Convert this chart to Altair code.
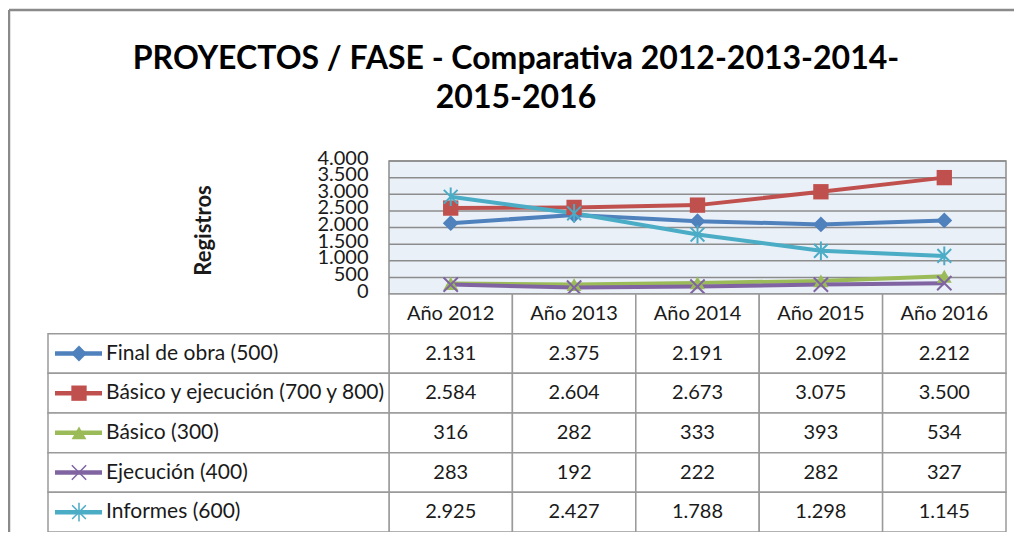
import altair as alt
import pandas as pd

# ---------------- data ----------------
years = ["Año 2012", "Año 2013", "Año 2014", "Año 2015", "Año 2016"]
series = [
    "Final de obra (500)",
    "Básico y ejecución (700 y 800)",
    "Básico (300)",
    "Ejecución (400)",
    "Informes (600)",
]
final_obra = [2131, 2375, 2191, 2092, 2212]
basico_ejecucion = [2584, 2604, 2673, 3075, 3500]
basico = [316, 282, 333, 393, 534]
ejecucion = [283, 192, 222, 282, 327]
informes = [2925, 2427, 1788, 1298, 1145]
y_ticks = [0, 500, 1000, 1500, 2000, 2500, 3000, 3500, 4000]
title_lines = ["PROYECTOS / FASE - Comparativa 2012-2013-2014-", "2015-2016"]
y_title = "Registros"

# ---------------- styles ----------------
colors = ["#4F81BD", "#C0504D", "#9BBB59", "#8064A2", "#4BACC6"]
X_PATH = "M-1,-1L1,1M-1,1L1,-1"
AST_PATH = "M-1,-1L1,1M-1,1L1,-1M0,-1.35L0,1.35"
shapes = ["diamond", "square", "triangle-up", X_PATH, AST_PATH]
sizes = [250, 190, 200, 200, 260]
FONT = "Lato"
TXT = "#1a1a1a"
GRID = "#8c8c8c"
BORDER = "#9a9a9a"

series_vals = [final_obra, basico_ejecucion, basico, ejecucion, informes]
records = []
for s, vals in zip(series, series_vals):
    for yr, v in zip(years, vals):
        records.append({"series": s, "year": yr, "value": v, "row": s})
df = pd.DataFrame(records)
header_df = pd.DataFrame({"year": years, "row": ["header"] * len(years)})
legend_df = pd.DataFrame({"series": series, "row": series})
tick_df = pd.DataFrame({"value": y_ticks})
one = pd.DataFrame({"a": [0]})

# ---------------- scales ----------------
x_scale = alt.Scale(type="band", domain=years, range=[341, 958], paddingInner=0, paddingOuter=0)
y_scale = alt.Scale(domain=[0, 4000], range=[133, 0], nice=False, zero=True)
row_scale = alt.Scale(type="band", domain=["header"] + series, range=[133, 371], paddingInner=0, paddingOuter=0)
color_scale = alt.Scale(domain=series, range=colors)
shape_scale = alt.Scale(domain=series, range=shapes)
size_scale = alt.Scale(domain=series, range=sizes)

X = alt.X("year:N", scale=x_scale, axis=None)
Yv = lambda axis=None: alt.Y("value:Q", scale=y_scale, axis=axis)
Yrow = alt.Y("row:N", scale=row_scale, axis=None)
Yrow_mid = alt.Y("row:N", scale=row_scale, axis=None, bandPosition=0.5)
COLOR = alt.Color("series:N", scale=color_scale, legend=None)
SHAPE = alt.Shape("series:N", scale=shape_scale, legend=None)
SIZE = alt.Size("series:N", scale=size_scale, legend=None)

filled_pred = alt.FieldOneOfPredicate(field="series", oneOf=series[:3])
stroked_pred = alt.FieldOneOfPredicate(field="series", oneOf=series[3:])

# ---------------- layers ----------------
frame_top = alt.Chart(one).mark_rule(color="#8a8a8a", strokeWidth=2.5).encode(
    x=alt.value(-39), x2=alt.value(1100), y=alt.value(-151)
)
frame_left = alt.Chart(one).mark_rule(color="#8a8a8a", strokeWidth=2.5).encode(
    x=alt.value(-39), y=alt.value(-151), y2=alt.value(700)
)

title = alt.Chart(one).mark_text(
    text=title_lines, font=FONT, fontSize=32, fontWeight="bold", color="#000000",
    align="center", baseline="alphabetic", lineHeight=39,
).encode(x=alt.value(468), y=alt.value(-92))

plot_bg = alt.Chart(one).mark_rect(fill="#EAF0F8", stroke=GRID, strokeWidth=1.5).encode(
    x=alt.value(341), x2=alt.value(958), y=alt.value(0), y2=alt.value(133)
)

grid = alt.Chart(tick_df).mark_rule(color=GRID, strokeWidth=1.5).encode(
    y=Yv(), x=alt.value(341), x2=alt.value(958)
)

y_axis = alt.Axis(
    values=y_ticks, labelExpr="replace(format(datum.value, ','), ',', '.')",
    offset=-341, grid=False, ticks=False, domain=False, zindex=2,
    labelFont=FONT, labelFontSize=20, labelColor=TXT, labelPadding=21,
    labelOverlap=False, labelFlush=False, labelOffset=-3,
    title=y_title, titleFont=FONT, titleFontSize=22, titleFontWeight="bold",
    titleColor=TXT, titleAngle=270, titleX=-186, titleY=69,
    titleAlign="center", titleBaseline="middle",
)

lines = alt.Chart(df).mark_line(strokeWidth=4).encode(
    x=X, y=Yv(y_axis), color=COLOR, detail="series:N"
)

pts_filled = alt.Chart(df).transform_filter(filled_pred).mark_point(
    filled=True, opacity=1
).encode(x=X, y=Yv(), color=COLOR, shape=SHAPE, size=SIZE)

pts_stroked = alt.Chart(df).transform_filter(stroked_pred).mark_point(
    filled=False, opacity=1, strokeWidth=2
).encode(x=X, y=Yv(), color=COLOR, shape=SHAPE, size=SIZE)

# table
cells = alt.Chart(pd.concat([header_df, df[["year", "row"]]])).mark_rect(
    fill="white", stroke=BORDER, strokeWidth=1.5
).encode(x=X, y=Yrow)

legend_cells = alt.Chart(legend_df).mark_rect(
    fill="white", stroke=BORDER, strokeWidth=1.5
).encode(x=alt.value(0), x2=alt.value(341), y=Yrow)

header_text = alt.Chart(header_df).mark_text(
    font=FONT, fontSize=20, color=TXT, align="center", baseline="middle"
).encode(x=X, y=Yrow_mid, text="year:N")

value_text = alt.Chart(df).transform_calculate(
    label="replace(format(datum.value, ','), ',', '.')"
).mark_text(
    font=FONT, fontSize=20, color=TXT, align="center", baseline="middle"
).encode(x=X, y=Yrow_mid, text="label:N")

legend_text = alt.Chart(legend_df).mark_text(
    font=FONT, fontSize=21, color=TXT, align="left", baseline="middle"
).encode(x=alt.value(58), y=Yrow_mid, text="series:N")

legend_lines = alt.Chart(legend_df).mark_rule(strokeWidth=4.5).encode(
    x=alt.value(7), x2=alt.value(54), y=Yrow_mid, color=COLOR
)

legend_filled = alt.Chart(legend_df).transform_filter(filled_pred).mark_point(
    filled=True, opacity=1
).encode(x=alt.value(31), y=Yrow_mid, color=COLOR, shape=SHAPE, size=SIZE)

legend_stroked = alt.Chart(legend_df).transform_filter(stroked_pred).mark_point(
    filled=False, opacity=1, strokeWidth=1.5
).encode(x=alt.value(31), y=Yrow_mid, color=COLOR, shape=SHAPE, size=SIZE)

chart = alt.layer(
    frame_top, frame_left, title, plot_bg, grid, lines, pts_filled, pts_stroked,
    cells, legend_cells, header_text, value_text, legend_text,
    legend_lines, legend_filled, legend_stroked,
).resolve_scale(y="independent").properties(
    width=958, height=371,
    autosize=alt.AutoSizeParams(type="none"),
    padding={"left": 40, "top": 153, "right": 8, "bottom": 0},
    background="white",
).configure_view(stroke=None)

chart.save("out.html", embed_options={"renderer": "svg", "actions": False})
